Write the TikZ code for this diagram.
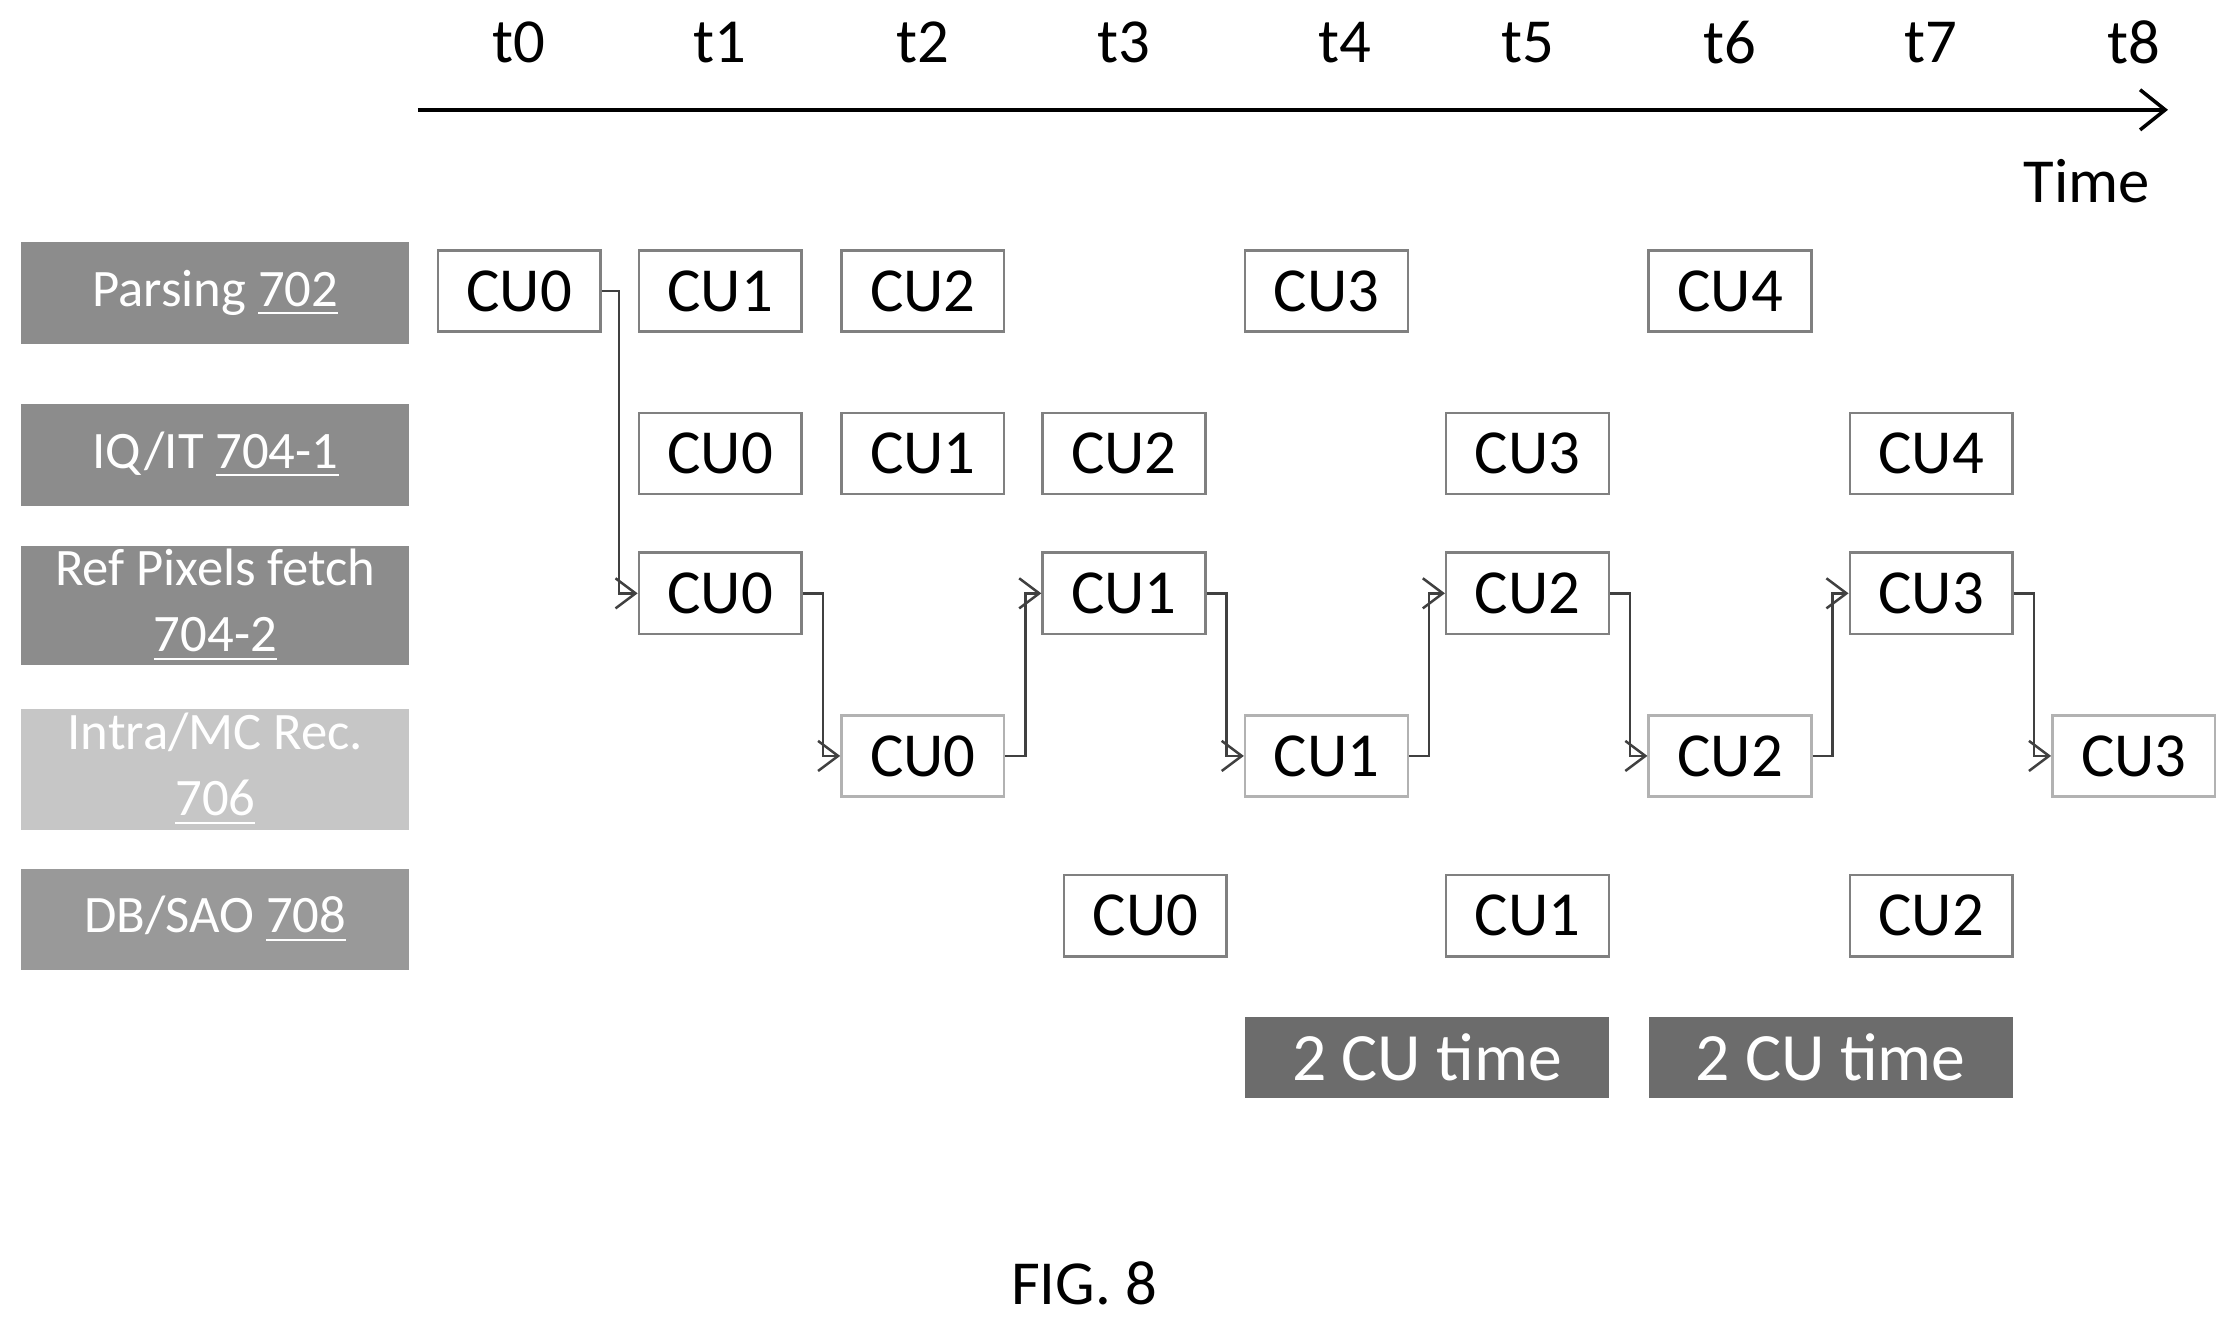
\documentclass[tikz,border=0pt]{standalone}
\usepackage{fontspec}
\setmainfont{Carlito}
\usetikzlibrary{arrows.meta}
\begin{document}
\begin{tikzpicture}[x=0.01cm,y=-0.01cm,
  lab/.style={fill=#1,minimum width=2.72cm,minimum height=0.71cm,text=white,font=\fontsize{10.5}{12}\selectfont,align=center,inner sep=0pt},
  cu/.style={draw=gray,line width=0.5pt,minimum width=1.14cm,minimum height=0.57cm,inner sep=0pt,font=\fontsize{12.5}{14}\selectfont},
  tl/.style={font=\fontsize{12.5}{14}\selectfont},
  conn/.style={draw=black!75,line width=0.5pt,-{Straight Barb[length=4pt,width=6pt]}},
  cut/.style={fill=gray!85!black,text=white,minimum width=2.55cm,minimum height=0.57cm,inner sep=0pt,font=\fontsize{13.5}{15}\selectfont}]
\useasboundingbox (0,0) rectangle (1560,924);
% time axis
\foreach \n/\x in {0/364,1/505,2/647,3/788,4/943,5/1071,6/1213,7/1354,8/1496}
  \node[tl] (t\n) at (\x,30) {t\n};
\coordinate (as) at (293,77); \coordinate (ae) at (1520,77);
\draw[line width=0.7pt,-{Straight Barb[length=5pt,width=8pt]}] (as) -- (ae);
\node[tl] (time) at (1463,127) {Time};
% labels
\node[lab=gray!90] (lP) at (151,205.5) {Parsing \underline{702}};
\node[lab=gray!90] (lQ) at (151,319) {IQ/IT \underline{704-1}};
\node[lab=gray!90,minimum height=0.83cm] (lR) at (151,424.5) {Ref Pixels fetch\\[1pt]\underline{704-2}};
\node[lab=gray!45,minimum height=0.85cm] (lI) at (151,539.5) {Intra/MC Rec.\\[1pt]\underline{706}};
\node[lab=gray!80] (lD) at (151,644.5) {DB/SAO \underline{708}};
% parsing
\node[cu] (p0) at (364,204) {CU0};
\node[cu] (p1) at (505,204) {CU1};
\node[cu] (p2) at (647,204) {CU2};
\node[cu] (p3) at (930,204) {CU3};
\node[cu] (p4) at (1213,204) {CU4};
% IQ
\node[cu] (q0) at (505,318) {CU0};
\node[cu] (q1) at (647,318) {CU1};
\node[cu] (q2) at (788,318) {CU2};
\node[cu] (q3) at (1071,318) {CU3};
\node[cu] (q4) at (1354,318) {CU4};
% Ref
\node[cu] (r0) at (505,416) {CU0};
\node[cu] (r1) at (788,416) {CU1};
\node[cu] (r2) at (1071,416) {CU2};
\node[cu] (r3) at (1354,416) {CU3};
% Intra
\node[cu,draw=gray!60] (i0) at (647,530) {CU0};
\node[cu,draw=gray!60] (i1) at (930,530) {CU1};
\node[cu,draw=gray!60] (i2) at (1213,530) {CU2};
\node[cu,draw=gray!60] (i3) at (1496,530) {CU3};
% DB
\node[cu] (d0) at (803,642) {CU0};
\node[cu] (d1) at (1071,642) {CU1};
\node[cu] (d2) at (1354,642) {CU2};
% connectors
\draw[conn] (p0.east) -- ++(12,0) |- (r0.west);
\draw[conn] (r0.east) -- ++(14,0) |- (i0.west);
\draw[conn] (i0.east) -- ++(14,0) |- (r1.west);
\draw[conn] (r1.east) -- ++(14,0) |- (i1.west);
\draw[conn] (i1.east) -- ++(14,0) |- (r2.west);
\draw[conn] (r2.east) -- ++(14,0) |- (i2.west);
\draw[conn] (i2.east) -- ++(14,0) |- (r3.west);
\draw[conn] (r3.east) -- ++(14,0) |- (i3.west);
% 2 CU time
\node[cut] (c1) at (1000.5,741.5) {2 CU time};
\node[cut] (c2) at (1283.5,741.5) {2 CU time};
\node[tl] (fig) at (760,900) {FIG. 8};
\end{tikzpicture}
\end{document}
